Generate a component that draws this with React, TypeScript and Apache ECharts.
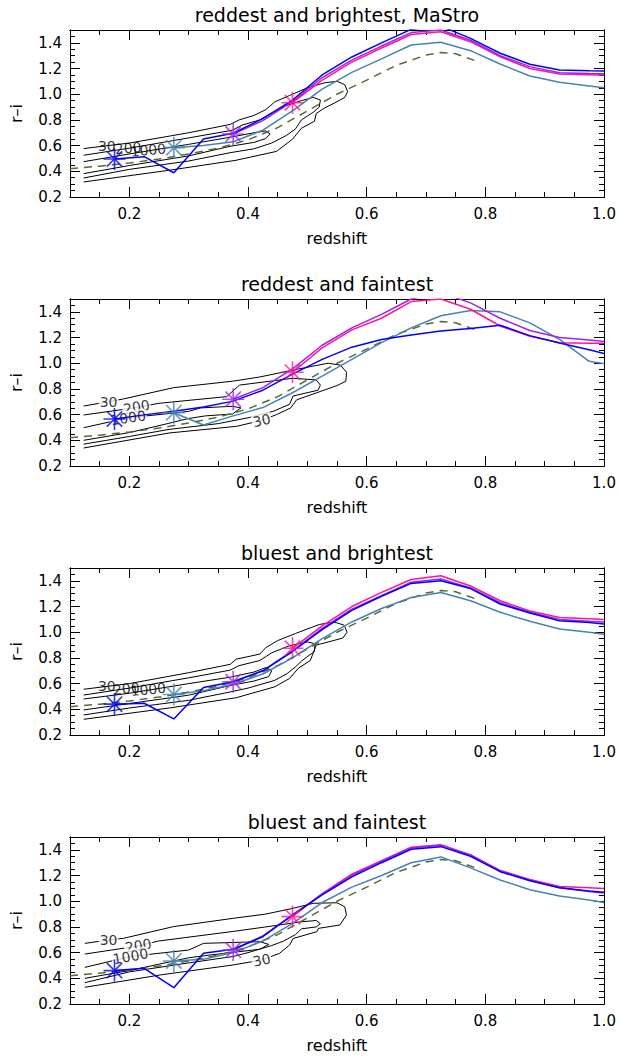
import React, { useEffect, useRef } from 'react';
import * as echarts from 'echarts';

const FONT = '"DejaVu Sans", sans-serif';

const TITLES = ['reddest and brightest, MaStro', 'reddest and faintest', 'bluest and brightest', 'bluest and faintest'];
const X_TICKS = [0.2, 0.4, 0.6, 0.8, 1.0];
const Y_TICKS = [0.2, 0.4, 0.6, 0.8, 1.0, 1.2, 1.4];

// redshift grid of the tracks
const ZGRID = [0.175, 0.225, 0.275, 0.325, 0.375, 0.425, 0.475, 0.525, 0.575, 0.625, 0.675, 0.725, 0.775, 0.825, 0.875, 0.925, 0.975, 1.0];

// model track (dashed)
const MODEL_Z = [0.1, 0.15, 0.2, 0.25, 0.3, 0.35, 0.4, 0.45, 0.5, 0.55, 0.6, 0.65, 0.7, 0.725, 0.75, 0.79];
const MODEL_RI = [0.42, 0.44, 0.465, 0.495, 0.535, 0.58, 0.645, 0.74, 0.87, 1.0, 1.11, 1.225, 1.305, 1.325, 1.315, 1.25];

// panel 1: reddest and brightest, MaStro
const BLUE_1 = [0.496, 0.514, 0.389, 0.651, 0.696, 0.81, 0.955, 1.15, 1.29, 1.40, 1.505, 1.53, 1.435, 1.319, 1.233, 1.189, 1.182, 1.18];
const STEEL_1 = [null, null, 0.584, 0.60, 0.63, 0.72, 0.87, 1.04, 1.17, 1.275, 1.383, 1.404, 1.339, 1.235, 1.142, 1.093, 1.065, 1.051];
const PURPLE_1 = [null, null, null, null, 0.69, 0.795, 0.945, 1.13, 1.265, 1.375, 1.48, 1.50, 1.42, 1.30, 1.215, 1.168, 1.162, 1.16];
const PINK_1 = [null, null, null, null, null, null, 0.934, 1.11, 1.25, 1.36, 1.465, 1.487, 1.409, 1.292, 1.20, 1.157, 1.152, 1.15];

// panel 2: reddest and faintest
const BLUE_2 = [0.566, 0.598, 0.626, 0.66, 0.705, 0.79, 0.915, 1.03, 1.125, 1.185, 1.22, 1.25, 1.27, 1.296, 1.215, 1.158, 1.105, 1.075];
const STEEL_2 = [null, null, 0.615, 0.519, 0.59, 0.655, 0.77, 0.90, 1.03, 1.16, 1.275, 1.37, 1.41, 1.40, 1.314, 1.185, 1.015, 0.997];
const PURPLE_2 = [null, null, null, null, 0.72, 0.81, 0.956, 1.14, 1.275, 1.38, 1.50, 1.55, 1.47, 1.35, 1.255, 1.20, 1.18, 1.17];
const PINK_2 = [null, null, null, null, null, null, 0.93, 1.12, 1.26, 1.35, 1.48, 1.50, 1.42, 1.29, 1.21, 1.16, 1.155, 1.155];

// panel 3: bluest and brightest
const BLUE_3 = [0.44, 0.447, 0.325, 0.57, 0.615, 0.70, 0.85, 1.02, 1.17, 1.28, 1.38, 1.40, 1.34, 1.22, 1.15, 1.09, 1.075, 1.065];
const STEEL_3 = [null, null, 0.515, 0.545, 0.595, 0.675, 0.80, 0.95, 1.08, 1.185, 1.27, 1.31, 1.245, 1.155, 1.085, 1.025, 1.0, 0.985];
const PURPLE_3 = [null, null, null, null, 0.615, 0.70, 0.855, 1.03, 1.18, 1.285, 1.39, 1.415, 1.345, 1.23, 1.155, 1.10, 1.085, 1.08];
const PINK_3 = [null, null, null, null, null, null, 0.875, 1.05, 1.20, 1.31, 1.41, 1.44, 1.36, 1.245, 1.165, 1.115, 1.105, 1.10];

// panel 4: bluest and faintest
const BLUE_4 = [0.46, 0.478, 0.327, 0.595, 0.626, 0.724, 0.893, 1.05, 1.19, 1.30, 1.405, 1.425, 1.35, 1.23, 1.16, 1.105, 1.08, 1.07];
const STEEL_4 = [null, null, 0.535, 0.548, 0.60, 0.69, 0.828, 0.99, 1.11, 1.20, 1.30, 1.345, 1.26, 1.165, 1.09, 1.04, 1.01, 0.99];
const PURPLE_4 = [null, null, null, null, 0.62, 0.73, 0.89, 1.055, 1.20, 1.31, 1.415, 1.435, 1.36, 1.235, 1.165, 1.105, 1.075, 1.065];
const PINK_4 = [null, null, null, null, null, null, 0.88, 1.06, 1.21, 1.315, 1.42, 1.44, 1.36, 1.24, 1.17, 1.115, 1.105, 1.10];

// density contours (levels 30, 200, 1000), [z, r-i]
const C30_1 = [[0.123, 0.577], [0.2, 0.62], [0.3, 0.70], [0.37, 0.765], [0.385, 0.80], [0.41, 0.835], [0.43, 0.88], [0.445, 0.94], [0.47, 0.99], [0.5, 1.05], [0.53, 1.09], [0.55, 1.10], [0.563, 1.075], [0.568, 1.02], [0.563, 0.975], [0.545, 0.93], [0.528, 0.89], [0.515, 0.85], [0.512, 0.79], [0.49, 0.735], [0.475, 0.65], [0.448, 0.555], [0.38, 0.486], [0.267, 0.408], [0.123, 0.317]];
const C200_1 = [[0.123, 0.525], [0.2, 0.58], [0.3, 0.66], [0.374, 0.72], [0.39, 0.76], [0.42, 0.80], [0.44, 0.855], [0.46, 0.905], [0.49, 0.95], [0.51, 0.975], [0.522, 0.955], [0.52, 0.90], [0.51, 0.86], [0.5, 0.83], [0.49, 0.80], [0.48, 0.73], [0.465, 0.68], [0.44, 0.62], [0.41, 0.575], [0.37, 0.545], [0.3, 0.48], [0.2, 0.415], [0.123, 0.348]];
const C1000_1 = [[0.123, 0.475], [0.2, 0.535], [0.3, 0.61], [0.37, 0.665], [0.41, 0.70], [0.43, 0.715], [0.437, 0.69], [0.43, 0.655], [0.41, 0.625], [0.37, 0.595], [0.3, 0.52], [0.2, 0.445], [0.123, 0.382]];
const LAB_1 = [['30', 0.162, 0.60, 0], ['200', 0.198, 0.58, 5], ['1000', 0.232, 0.565, 5]];

const C30_2 = [[0.123, 0.667], [0.165, 0.70], [0.19, 0.722], [0.275, 0.81], [0.374, 0.86], [0.42, 0.893], [0.476, 0.947], [0.535, 1.0], [0.556, 0.985], [0.566, 0.93], [0.565, 0.86], [0.55, 0.826], [0.515, 0.769], [0.482, 0.715], [0.472, 0.652], [0.448, 0.60], [0.423, 0.555], [0.381, 0.509], [0.267, 0.457], [0.123, 0.34]];
const C200_2 = [[0.123, 0.597], [0.212, 0.655], [0.25, 0.688], [0.364, 0.74], [0.376, 0.79], [0.386, 0.83], [0.476, 0.883], [0.515, 0.87], [0.522, 0.83], [0.518, 0.79], [0.476, 0.745], [0.47, 0.68], [0.442, 0.625], [0.40, 0.575], [0.35, 0.53], [0.267, 0.485], [0.2, 0.43], [0.123, 0.37]];
const C1000_2 = [[0.123, 0.498], [0.198, 0.575], [0.26, 0.605], [0.30, 0.625], [0.32, 0.652], [0.374, 0.665], [0.388, 0.652], [0.374, 0.605], [0.328, 0.59], [0.30, 0.57], [0.26, 0.525], [0.2, 0.46], [0.123, 0.40]];
const LAB_2 = [['30', 0.165, 0.70, 0], ['200', 0.212, 0.66, 10], ['1000', 0.198, 0.575, 8], ['30', 0.423, 0.555, 12]];

const C30_3 = [[0.123, 0.556], [0.2, 0.60], [0.3, 0.685], [0.37, 0.75], [0.38, 0.79], [0.42, 0.83], [0.43, 0.88], [0.45, 0.935], [0.48, 0.99], [0.52, 1.06], [0.545, 1.08], [0.562, 1.055], [0.567, 1.0], [0.56, 0.955], [0.54, 0.93], [0.515, 0.90], [0.51, 0.84], [0.505, 0.78], [0.485, 0.72], [0.47, 0.64], [0.445, 0.575], [0.38, 0.49], [0.267, 0.41], [0.123, 0.322]];
const C200_3 = [[0.123, 0.511], [0.2, 0.565], [0.3, 0.645], [0.37, 0.705], [0.385, 0.74], [0.42, 0.78], [0.44, 0.84], [0.47, 0.895], [0.5, 0.925], [0.513, 0.91], [0.512, 0.85], [0.5, 0.81], [0.49, 0.775], [0.48, 0.73], [0.465, 0.675], [0.445, 0.625], [0.40, 0.565], [0.37, 0.535], [0.3, 0.47], [0.2, 0.41], [0.123, 0.356]];
const C1000_3 = [[0.123, 0.48], [0.2, 0.525], [0.3, 0.60], [0.37, 0.65], [0.41, 0.69], [0.43, 0.725], [0.44, 0.70], [0.435, 0.655], [0.41, 0.62], [0.37, 0.585], [0.3, 0.51], [0.2, 0.445], [0.123, 0.395]];
const LAB_3 = [['30', 0.162, 0.58, 0], ['200', 0.195, 0.56, 5], ['1000', 0.232, 0.555, 5]];

const C30_4 = [[0.125, 0.672], [0.165, 0.698], [0.19, 0.711], [0.274, 0.802], [0.375, 0.867], [0.43, 0.90], [0.476, 0.945], [0.51, 0.984], [0.55, 0.988], [0.563, 0.957], [0.566, 0.893], [0.555, 0.815], [0.519, 0.789], [0.516, 0.763], [0.476, 0.71], [0.47, 0.659], [0.453, 0.594], [0.423, 0.542], [0.375, 0.504], [0.252, 0.426], [0.125, 0.33]];
const C200_4 = [[0.125, 0.589], [0.215, 0.651], [0.249, 0.69], [0.375, 0.765], [0.43, 0.80], [0.49, 0.84], [0.515, 0.85], [0.522, 0.825], [0.515, 0.80], [0.49, 0.785], [0.48, 0.74], [0.46, 0.69], [0.44, 0.655], [0.40, 0.60], [0.375, 0.57], [0.3, 0.52], [0.2, 0.45], [0.125, 0.366]];
const C1000_4 = [[0.125, 0.485], [0.202, 0.57], [0.26, 0.60], [0.3, 0.62], [0.325, 0.672], [0.42, 0.685], [0.435, 0.664], [0.42, 0.626], [0.336, 0.581], [0.3, 0.56], [0.25, 0.51], [0.2, 0.46], [0.125, 0.40]];
const LAB_4 = [['30', 0.165, 0.698, 0], ['200', 0.215, 0.655, 10], ['1000', 0.202, 0.572, 10], ['30', 0.423, 0.542, 12]];

const COL = { blue: '#0000ff', steel: '#4682b4', purple: '#a020f0', pink: '#ff1493', model: '#556b2f' };

const PANELS = [
  { blue: BLUE_1, steel: STEEL_1, purple: PURPLE_1, pink: PINK_1, contours: [C30_1, C200_1, C1000_1], labels: LAB_1, labelBg: false },
  { blue: BLUE_2, steel: STEEL_2, purple: PURPLE_2, pink: PINK_2, contours: [C30_2, C200_2, C1000_2], labels: LAB_2, labelBg: true },
  { blue: BLUE_3, steel: STEEL_3, purple: PURPLE_3, pink: PINK_3, contours: [C30_3, C200_3, C1000_3], labels: LAB_3, labelBg: false },
  { blue: BLUE_4, steel: STEEL_4, purple: PURPLE_4, pink: PINK_4, contours: [C30_4, C200_4, C1000_4], labels: LAB_4, labelBg: true },
];

const PANEL_TOP = 30;
const PANEL_STEP = 269;
const PANEL_H = 167;
const PLOT_LEFT = 70;
const PLOT_RIGHT = 15;

const STAR = 'path://M10,0L10,20M0,10L20,10M3,3L17,17M3,17L17,3';

function pairs(zs: number[], vs: (number | null)[]) {
  const out: number[][] = [];
  zs.forEach((z, i) => {
    const v = vs[i];
    if (v !== null && v !== undefined) out.push([z, v]);
  });
  return out;
}

function firstValue(vs: (number | null)[]) {
  for (let i = 0; i < vs.length; i++) if (vs[i] !== null) return [ZGRID[i], vs[i] as number];
  return null;
}

const tickStyle = { color: '#000', width: 1 };

function xAxesFor(i: number) {
  const common = {
    type: 'value', gridIndex: i, min: 0.1, max: 1.0,
    splitLine: { show: false },
    axisLine: { show: true, onZero: false, lineStyle: { color: '#000', width: 1 } },
  };
  return [
    { ...common, position: 'bottom', interval: 0.05, axisTick: { show: true, inside: true, length: 5, lineStyle: tickStyle }, axisLabel: { show: false } },
    {
      ...common, position: 'bottom',
      axisTick: { show: true, inside: true, length: 10, customValues: X_TICKS, lineStyle: tickStyle },
      axisLabel: { show: true, customValues: X_TICKS, formatter: (v: number) => v.toFixed(1), color: '#000', fontSize: 15, fontFamily: FONT, margin: 9 },
      name: 'redshift', nameLocation: 'middle', nameGap: 33,
      nameTextStyle: { color: '#000', fontSize: 16, fontFamily: FONT },
    },
    { ...common, position: 'top', interval: 0.05, axisTick: { show: true, inside: true, length: 5, lineStyle: tickStyle }, axisLabel: { show: false } },
    { ...common, position: 'top', axisTick: { show: true, inside: true, length: 10, customValues: X_TICKS, lineStyle: tickStyle }, axisLabel: { show: false } },
  ];
}

function yAxesFor(i: number) {
  const common = {
    type: 'value', gridIndex: i, min: 0.2, max: 1.5,
    splitLine: { show: false },
    axisLine: { show: true, onZero: false, lineStyle: { color: '#000', width: 1 } },
  };
  return [
    { ...common, position: 'left', interval: 0.05, axisTick: { show: true, inside: true, length: 5, lineStyle: tickStyle }, axisLabel: { show: false } },
    {
      ...common, position: 'left',
      axisTick: { show: true, inside: true, length: 10, customValues: Y_TICKS, lineStyle: tickStyle },
      axisLabel: { show: true, customValues: Y_TICKS, formatter: (v: number) => v.toFixed(1), color: '#000', fontSize: 15, fontFamily: FONT, margin: 8 },
      name: 'r\u2013i', nameLocation: 'middle', nameGap: 46, nameRotate: 90,
      nameTextStyle: { color: '#000', fontSize: 16, fontFamily: FONT },
    },
    { ...common, position: 'right', interval: 0.05, axisTick: { show: true, inside: true, length: 5, lineStyle: tickStyle }, axisLabel: { show: false } },
    { ...common, position: 'right', axisTick: { show: true, inside: true, length: 10, customValues: Y_TICKS, lineStyle: tickStyle }, axisLabel: { show: false } },
  ];
}

function buildOption() {
  const grid: any[] = [];
  const xAxis: any[] = [];
  const yAxis: any[] = [];
  const series: any[] = [];
  const graphic: any[] = [];

  PANELS.forEach((p, i) => {
    const top = PANEL_TOP + PANEL_STEP * i;
    grid.push({ left: PLOT_LEFT, right: PLOT_RIGHT, top, height: PANEL_H });
    xAxis.push(...xAxesFor(i));
    yAxis.push(...yAxesFor(i));
    graphic.push({
      type: 'text', x: PLOT_LEFT + (619 - PLOT_LEFT - PLOT_RIGHT) / 2, y: top - 15,
      style: { text: TITLES[i], fill: '#000', font: `19px ${FONT}`, textAlign: 'center', textVerticalAlign: 'middle' },
      silent: true,
    });
    const ax = { xAxisIndex: 4 * i + 1, yAxisIndex: 4 * i + 1 };

    p.contours.forEach((c) => {
      series.push({
        type: 'line', ...ax, data: c, showSymbol: false, symbol: 'none', silent: true, z: 2,
        lineStyle: { color: '#000', width: 1 },
      });
    });

    series.push({
      type: 'scatter', ...ax, silent: true, z: 3, symbolSize: 1,
      itemStyle: { color: 'rgba(0,0,0,0)' },
      data: p.labels.map((l: any) => ({ name: l[0], value: [l[1], l[2]], label: { rotate: l[3] } })),
      label: {
        show: true, position: 'inside', formatter: '{b}', color: '#000', fontSize: 14, fontFamily: FONT,
        backgroundColor: p.labelBg ? '#ffffff' : 'transparent', padding: [0, 1],
      },
    });

    series.push({
      type: 'line', ...ax, data: pairs(MODEL_Z, MODEL_RI), showSymbol: false, symbol: 'none', silent: true, z: 4,
      lineStyle: { color: COL.model, width: 1.5, type: [8, 6] },
    });

    const tracks: [string, (number | null)[]][] = [
      ['steel', p.steel], ['pink', p.pink], ['purple', p.purple], ['blue', p.blue],
    ];
    tracks.forEach(([k, vs]) => {
      series.push({
        type: 'line', ...ax, data: pairs(ZGRID, vs), showSymbol: false, symbol: 'none', silent: true, z: 5,
        lineStyle: { color: (COL as any)[k], width: 1.5 },
      });
    });

    const starOrder: [string, (number | null)[]][] = [['blue', p.blue], ['steel', p.steel], ['purple', p.purple], ['pink', p.pink]];
    series.push({
      type: 'scatter', ...ax, silent: true, z: 6, symbol: STAR, symbolSize: 22,
      data: starOrder.map(([k, vs]) => ({ value: firstValue(vs), itemStyle: { color: 'rgba(0,0,0,0)', borderColor: (COL as any)[k], borderWidth: 1.6 } })),
    });
  });

  return { animation: false, backgroundColor: '#ffffff', grid, xAxis, yAxis, series, graphic };
}

export default function App() {
  const ref = useRef<HTMLDivElement>(null);
  useEffect(() => {
    document.body.style.margin = '0';
    const chart = echarts.init(ref.current as HTMLDivElement, undefined, { renderer: 'svg' });
    chart.setOption(buildOption() as any);
    return () => chart.dispose();
  }, []);
  return <div ref={ref} style={{ width: 619, height: 1062 }} />;
}
